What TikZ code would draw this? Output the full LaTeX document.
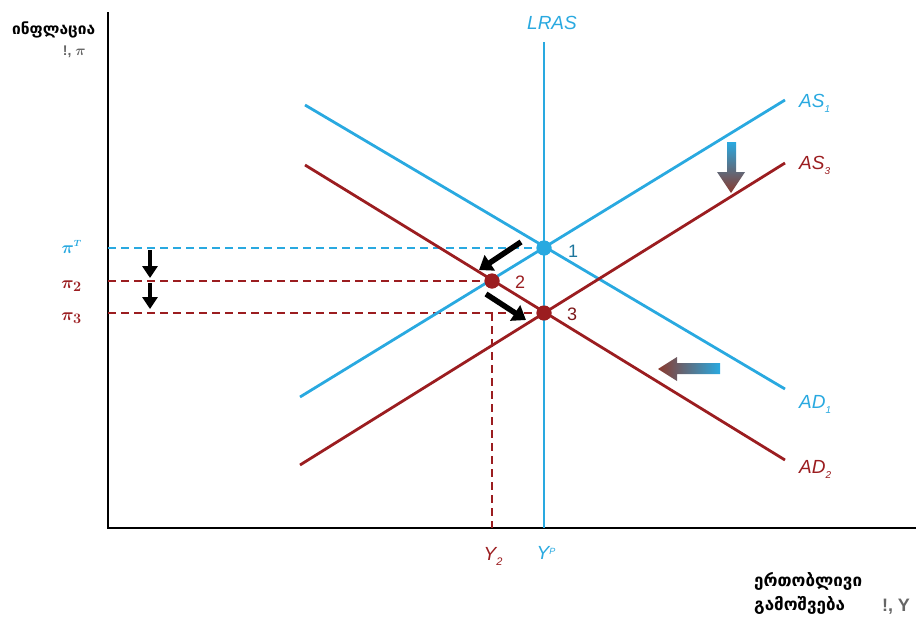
\documentclass[tikz,border=0pt]{standalone}
\usepackage{amsmath}
\usepackage{fontspec}
\setmainfont{Liberation Sans}
\newfontfamily\geofont{DejaVu Sans}
\usetikzlibrary{arrows.meta}
\definecolor{CBlue}{HTML}{29A9E0}
\definecolor{CRed}{HTML}{9B1D20}
\definecolor{CBrown}{HTML}{8A3A2E}

\begin{document}
\begin{tikzpicture}[x=1pt,y=-1pt,
  curve/.style={line width=2.8pt},
  guide/.style={dashed,line width=1.5pt,dash pattern=on 8pt off 5pt},
  lbl/.style={font=\fontsize{19}{19}\selectfont\itshape,anchor=west,inner sep=0pt},
  tick/.style={font=\fontsize{19}{19}\selectfont\bfseries\boldmath,inner sep=0pt},
  num/.style={font=\fontsize{18}{18}\selectfont,inner sep=0pt},
  geo/.style={font=\geofont\bfseries\fontsize{15.5}{24}\selectfont,inner sep=0pt,align=left},
  dot/.style={circle,inner sep=0pt,minimum size=15pt},
  push/.style={-{Triangle[length=13pt,width=18pt]},line width=5.5pt,black}
]
  \useasboundingbox (0,0) rectangle (918,621);
  % axes
  \coordinate (o) at (108,528);
  \coordinate (ytop) at (108,12);
  \coordinate (xend) at (916,528);
  \draw[line width=1.8pt] (ytop) -- (o) -- (xend);
  % curve end points
  \coordinate (as1a) at (300,397);
  \coordinate (as1b) at (785,100);
  \coordinate (ad1a) at (305,105);
  \coordinate (ad1b) at (785,389);
  \coordinate (as3a) at (300,465);
  \coordinate (as3b) at (785,163);
  \coordinate (ad2a) at (305,165);
  \coordinate (ad2b) at (785,460);
  \coordinate (lrtop) at (544,42);
  \coordinate (lrbot) at (544,528);
  \coordinate (y2bot) at (492,528);
  % equilibrium points
  \node[dot,fill=CBlue] (e1) at (544,248) {};
  \node[dot,fill=CRed] (e2) at (492,281) {};
  \node[dot,fill=CRed] (e3) at (544,313) {};
  % axis labels
  \node[tick,text=CBlue,anchor=east] (piT) at (82,247) {$\pi^{\scriptscriptstyle T}$};
  \node[tick,text=CRed,anchor=east] (pi2) at (82,286) {$\pi_{2}$};
  \node[tick,text=CRed,anchor=east] (pi3) at (82,318) {$\pi_{3}$};
  \node[lbl,text=CRed,anchor=center] (y2) at (493,556) {Y\raisebox{-5pt}{\fontsize{11}{11}\selectfont 2}};
  \node[lbl,text=CBlue,anchor=center] (yp) at (546,553) {Y\raisebox{5pt}{\fontsize{9}{9}\selectfont P}};
  % guides
  \draw[guide,CBlue] (108,248) -- (e1);
  \draw[guide,CRed] (108,281) -- (e2);
  \draw[guide,CRed] (108,313) -- (e3);
  \draw[guide,CRed] (492,313) -- (y2bot);
  % curves
  \draw[curve,CBlue] (lrtop) -- (lrbot);
  \draw[curve,CBlue] (as1a) -- (as1b);
  \draw[curve,CBlue] (ad1a) -- (ad1b);
  \draw[curve,CRed] (as3a) -- (as3b);
  \draw[curve,CRed] (ad2a) -- (ad2b);
  \node[dot,fill=CBlue] at (e1) {};
  \node[dot,fill=CRed] at (e2) {};
  \node[dot,fill=CRed] at (e3) {};
  % curve labels
  \node[lbl,text=CBlue,anchor=center] (lras) at (552,23) {LRAS};
  \node[lbl,text=CBlue] (as1) at (799,103) {AS\raisebox{-5pt}{\fontsize{10}{10}\selectfont 1}};
  \node[lbl,text=CRed] (as3) at (799,165) {AS\raisebox{-5pt}{\fontsize{10}{10}\selectfont 3}};
  \node[lbl,text=CBlue] (ad1) at (799,404) {AD\raisebox{-5pt}{\fontsize{10}{10}\selectfont 1}};
  \node[lbl,text=CRed] (ad2) at (799,469) {AD\raisebox{-5pt}{\fontsize{10}{10}\selectfont 2}};
  \node[num,text=CBlue!70!black] (n1) at (573,251) {1};
  \node[num,text=CRed] (n2) at (520,282) {2};
  \node[num,text=CRed!80!black] (n3) at (572,314) {3};
  % shift arrows
  \coordinate (d1a) at (521,242);
  \coordinate (d1b) at (479,270);
  \coordinate (d2a) at (486,294);
  \coordinate (d2b) at (526,320);
  \draw[push] (d1a) -- (d1b);
  \draw[push] (d2a) -- (d2b);
  \coordinate (v1a) at (150,250);
  \coordinate (v1b) at (150,278);
  \coordinate (v2a) at (150,283);
  \coordinate (v2b) at (150,309);
  \draw[push,line width=3.5pt,-{Triangle[length=12pt,width=15pt]}] (v1a) -- (v1b);
  \draw[push,line width=3.5pt,-{Triangle[length=12pt,width=15pt]}] (v2a) -- (v2b);
  % curve shift arrows
  \shade[top color=CBlue,bottom color=CBrown] (727,142) -- (736,142) -- (736,172)
    -- (745,172) -- (731,193) -- (717,172) -- (727,172) -- cycle;
  \shade[left color=CBrown,right color=CBlue] (720,363) -- (677,363) -- (677,357)
    -- (658,369) -- (677,381) -- (677,374) -- (720,374) -- cycle;
  % titles
  \node[geo,anchor=north west] (infl) at (12,22) {ინფლაცია};
  \node[font=\fontsize{14}{14}\selectfont\bfseries\boldmath,text=gray!80!black,inner sep=0pt,anchor=east] (pisym) at (86,52) {!, $\pi$};
  \node[geo,font=\geofont\bfseries\fontsize{17}{24}\selectfont,anchor=north west] (outp) at (754,572) {ერთობლივი\\გამოშვება};
  \node[font=\fontsize{18}{18}\selectfont\bfseries,text=gray!80!black,inner sep=0pt] (ysym) at (896,607) {!, Y};
\end{tikzpicture}
\end{document}
